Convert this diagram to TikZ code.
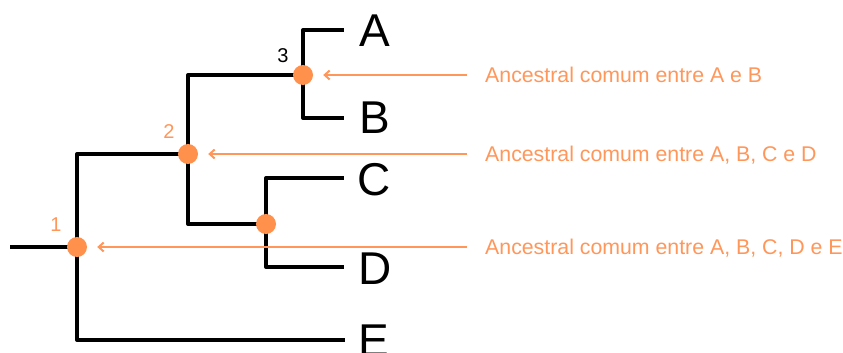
\documentclass[tikz,border=0pt]{standalone}
\usepackage{fontspec}
\setmainfont{Liberation Sans}
\usetikzlibrary{arrows.meta,backgrounds}
\definecolor{anc}{RGB}{255,145,77}
\definecolor{anctext}{RGB}{255,150,90}
\tikzset{
  branch/.style={line width=4pt, line join=round, black},
  ancnode/.style={circle, fill=anc, minimum size=20pt, inner sep=0pt},
  leaf/.style={anchor=west, inner sep=0pt, text height=33pt, text depth=0pt,
               font=\fontsize{46}{46}\selectfont},
  note/.style={anchor=west, inner sep=0pt, text height=15.3pt, text depth=0pt,
               text=anctext, font=\fontsize{21.3}{21.3}\selectfont},
  pointer/.style={draw=anctext, line width=2pt, -{Straight Barb[length=5pt,width=9pt]},
                  shorten <=18pt, shorten >=10pt},
  numlabel/.style={inner sep=0pt, font=\fontsize{20}{20}\selectfont}
}
\begin{document}
\begin{tikzpicture}[x=1pt, y=-1pt]
  \useasboundingbox (0,0) rectangle (843,353);

  % ancestral nodes
  \node[ancnode] (n1) at (77,247) {};
  \node[ancnode] (n2) at (188,154) {};
  \node[ancnode] (n3) at (303,75) {};
  \node[ancnode] (n4) at (266,224) {};

  % root stub and branch tips
  \coordinate (root) at (10,247);
  \coordinate (tA) at (344,30);
  \coordinate (tB) at (344,118);
  \coordinate (tC) at (344,178);
  \coordinate (tD) at (344,267);
  \coordinate (tE) at (345,340);

  % the tree
  \begin{scope}[on background layer]
    \draw[branch] (root) -- (n1.center);
    \draw[branch] (n1.center) |- (n2.center);
    \draw[branch] (n1.center) |- (tE);
    \draw[branch] (n2.center) |- (n3.center);
    \draw[branch] (n2.center) |- (n4.center);
    \draw[branch] (n3.center) |- (tA);
    \draw[branch] (n3.center) |- (tB);
    \draw[branch] (n4.center) |- (tC);
    \draw[branch] (n4.center) |- (tD);
  \end{scope}

  % taxa
  \node[leaf] (A) at (359,30) {A};
  \node[leaf] (B) at (359,117) {B};
  \node[leaf] (C) at (357,179) {C};
  \node[leaf] (D) at (358,268) {D};
  \node[leaf] (E) at (358,340) {E};

  % node numbers
  \node[numlabel, text=anctext] (l1) at (56,225) {1};
  \node[numlabel, text=anctext] (l2) at (169,132) {2};
  \node[numlabel] (l3) at (283,56) {3};

  % annotations
  \node[note] (t1) at (485,75) {Ancestral comum entre A e B};
  \node[note] (t2) at (485,154) {Ancestral comum entre A, B, C e D};
  \node[note] (t3) at (485,247) {Ancestral comum entre A, B, C, D e E};

  \draw[pointer] (t1.west) -- (n3.east);
  \draw[pointer] (t2.west) -- (n2.east);
  \draw[pointer] (t3.west) -- (n1.east);
\end{tikzpicture}
\end{document}
